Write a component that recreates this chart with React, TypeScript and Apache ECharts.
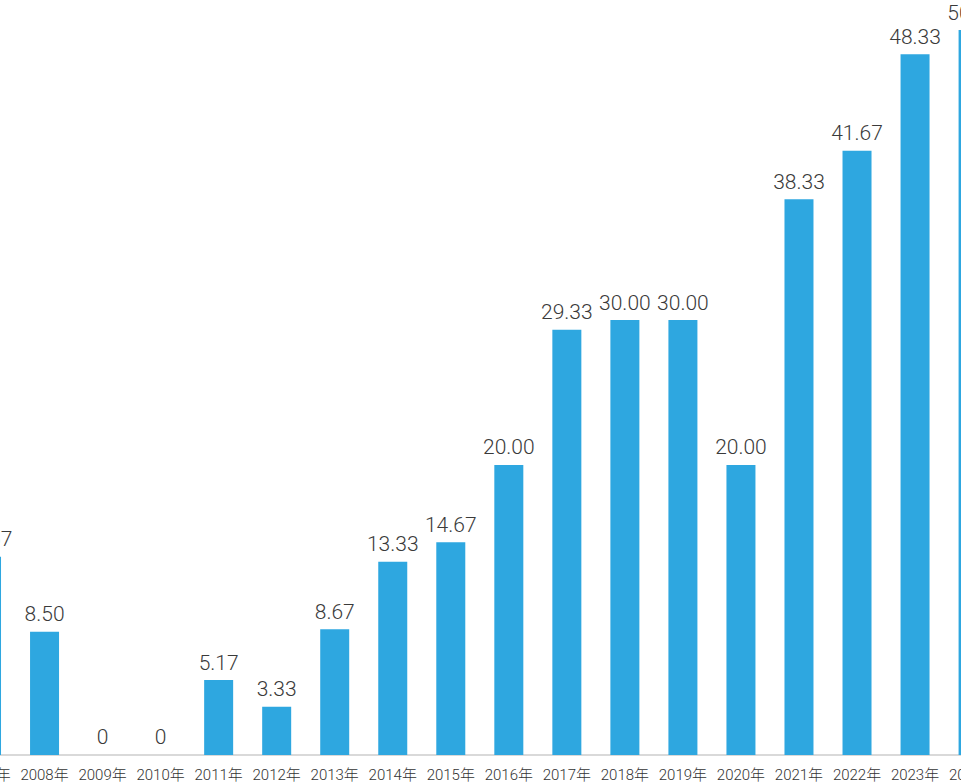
import React, { useEffect, useRef } from "react";
import * as echarts from "echarts";

const years = [
  "2007年", "2008年", "2009年", "2010年", "2011年", "2012年", "2013年", "2014年", "2015年",
  "2016年", "2017年", "2018年", "2019年", "2020年", "2021年", "2022年", "2023年", "2024年",
];
const values = [
  13.67, 8.5, 0, 0, 5.17, 3.33, 8.67, 13.33, 14.67,
  20.0, 29.33, 30.0, 30.0, 20.0, 38.33, 41.67, 48.33, 50.0,
];

export default function App() {
  const ref = useRef<HTMLDivElement>(null);
  useEffect(() => {
    if (!ref.current) return;
    const chart = echarts.init(ref.current, undefined, { renderer: "svg" });
    chart.setOption({
      animation: false,
      grid: { left: 17.5, right: 37.9, top: 30, bottom: 22, containLabel: false },
      xAxis: {
        type: "category",
        data: years,
        axisLine: { lineStyle: { color: "#cccccc", width: 1.5 } },
        axisTick: { show: false },
        axisLabel: {
          interval: 0,
          margin: 12,
          color: "#333333",
          fontSize: 15,
          fontWeight: 300,
          fontFamily: "Roboto, 'Noto Sans CJK SC', sans-serif",
        },
      },
      yAxis: {
        type: "value",
        min: 0,
        max: 50,
        show: false,
        splitLine: { show: false },
      },
      series: [
        {
          type: "bar",
          data: values,
          barWidth: 29,
          itemStyle: { color: "#2ea7e0" },
          label: {
            show: true,
            position: "top",
            distance: 7,
            color: "#3a3a3a",
            fontSize: 21,
            fontWeight: 300,
            fontFamily: "Roboto, sans-serif",
            formatter: (p: any) => (p.value === 0 ? "0" : Number(p.value).toFixed(2)),
          },
        },
      ],
    });
    return () => chart.dispose();
  }, []);
  return (
    <div style={{ position: "fixed", left: 0, top: 0, width: 961, height: 782, overflow: "hidden", background: "#fff" }}>
      <div ref={ref} style={{ position: "absolute", left: -60, top: 0, width: 1100, height: 782 }} />
    </div>
  );
}
